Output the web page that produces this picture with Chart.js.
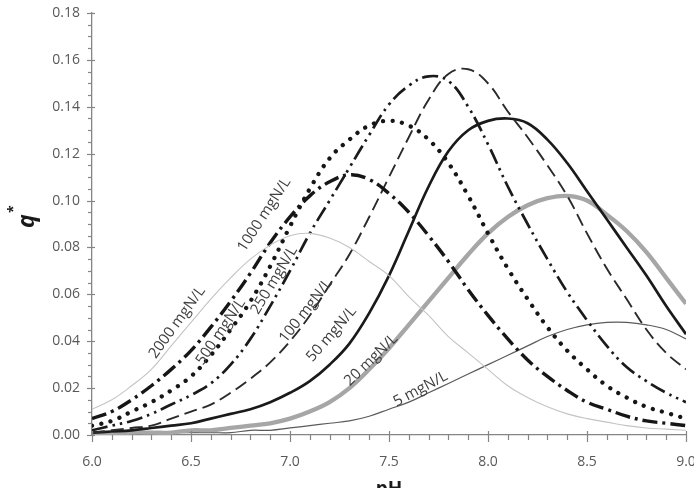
<!DOCTYPE html>
<html>
<head>
<meta charset="utf-8">
<script src="https://cdn.jsdelivr.net/npm/chart.js@4.4.1/dist/chart.umd.min.js"></script>
<style>
    html, body { margin: 0; padding: 0; background: #fff; }
</style>
</head>
<body>
<canvas id="chart" width="694" height="488"></canvas>
<script>
// pH grid the curves were read at
var ph = [6.0, 6.1, 6.2, 6.3, 6.4, 6.5, 6.6, 6.7, 6.8, 6.9,
          7.0, 7.1, 7.2, 7.3, 7.4, 7.5, 7.6, 7.7, 7.8, 7.9,
          8.0, 8.1, 8.2, 8.3, 8.4, 8.5, 8.6, 8.7, 8.8, 8.9, 9.0];

// q* for each ammonia concentration
var q2000 = [0.011, 0.015, 0.021, 0.028, 0.038, 0.048, 0.058, 0.067, 0.075, 0.081,
             0.085, 0.086, 0.084, 0.080, 0.074, 0.068, 0.059, 0.051, 0.042, 0.035,
             0.028, 0.021, 0.016, 0.012, 0.009, 0.007, 0.0055, 0.004, 0.003, 0.0025, 0.002];
var q1000 = [0.007, 0.010, 0.015, 0.021, 0.028, 0.036, 0.046, 0.057, 0.069, 0.082,
             0.093, 0.102, 0.108, 0.111, 0.109, 0.103, 0.095, 0.085, 0.074, 0.062,
             0.051, 0.041, 0.032, 0.025, 0.019, 0.014, 0.011, 0.008, 0.006, 0.005, 0.004];
var q500  = [0.004, 0.006, 0.010, 0.014, 0.019, 0.025, 0.034, 0.045, 0.057, 0.072,
             0.089, 0.105, 0.118, 0.126, 0.132, 0.134, 0.132, 0.126, 0.116, 0.102,
             0.086, 0.071, 0.058, 0.046, 0.036, 0.028, 0.021, 0.016, 0.012, 0.0095, 0.007];
var q250  = [0.002, 0.004, 0.006, 0.009, 0.013, 0.017, 0.022, 0.030, 0.041, 0.055,
             0.070, 0.086, 0.100, 0.114, 0.128, 0.141, 0.149, 0.153, 0.151, 0.140,
             0.124, 0.106, 0.090, 0.075, 0.061, 0.049, 0.038, 0.029, 0.023, 0.018, 0.014];
var q100  = [0.001, 0.002, 0.003, 0.004, 0.007, 0.010, 0.013, 0.018, 0.024, 0.031,
             0.040, 0.051, 0.064, 0.077, 0.093, 0.110, 0.127, 0.143, 0.154, 0.156,
             0.150, 0.138, 0.127, 0.115, 0.102, 0.086, 0.071, 0.058, 0.045, 0.035, 0.028];
var q50   = [0.001, 0.0015, 0.002, 0.003, 0.004, 0.005, 0.007, 0.009, 0.011, 0.014,
             0.018, 0.023, 0.030, 0.039, 0.052, 0.068, 0.087, 0.106, 0.121, 0.130,
             0.134, 0.135, 0.133, 0.126, 0.116, 0.104, 0.092, 0.080, 0.068, 0.055, 0.043];
var q20   = [0.000, 0.000, 0.001, 0.001, 0.001, 0.002, 0.002, 0.003, 0.004, 0.005,
             0.007, 0.010, 0.014, 0.020, 0.028, 0.037, 0.047, 0.057, 0.067, 0.077,
             0.086, 0.093, 0.098, 0.101, 0.102, 0.100, 0.094, 0.087, 0.078, 0.067, 0.056];
var q5    = [0.000, 0.000, 0.000, 0.000, 0.001, 0.001, 0.001, 0.001, 0.002, 0.002,
             0.003, 0.004, 0.005, 0.006, 0.008, 0.011, 0.014, 0.018, 0.022, 0.026,
             0.030, 0.034, 0.038, 0.042, 0.045, 0.047, 0.048, 0.048, 0.047, 0.045, 0.041];

var seriesNames = ['2000 mgN/L', '1000 mgN/L', '500 mgN/L', '250 mgN/L',
                   '100 mgN/L', '50 mgN/L', '20 mgN/L', '5 mgN/L'];
var seriesValues = [q2000, q1000, q500, q250, q100, q50, q20, q5];

var xTickValues = [6.0, 6.5, 7.0, 7.5, 8.0, 8.5, 9.0];
var yTickValues = [0.00, 0.02, 0.04, 0.06, 0.08, 0.10, 0.12, 0.14, 0.16, 0.18];

// line look per series, same order as seriesNames
var lineStyles = [
    { color: '#c4c4c4', width: 1.1, dash: [] },
    { color: '#161616', width: 3.4, dash: [15, 5, 3, 5] },
    { color: '#161616', width: 4.3, dash: [0.01, 9.5], cap: 'round' },
    { color: '#1a1a1a', width: 2.7, dash: [16, 5, 2.5, 5, 2.5, 5] },
    { color: '#2a2a2a', width: 1.9, dash: [13, 6] },
    { color: '#1a1a1a', width: 2.7, dash: [] },
    { color: '#a6a6a6', width: 4.3, dash: [] },
    { color: '#5a5a5a', width: 1.2, dash: [] }
];

// where the concentration labels sit (data units) and their tilt
var curveLabels = [
    { x: 6.43, y: 0.048, angle: -54 },
    { x: 6.87, y: 0.094, angle: -57 },
    { x: 6.65, y: 0.044, angle: -56 },
    { x: 6.92, y: 0.066, angle: -59 },
    { x: 7.08, y: 0.053, angle: -52 },
    { x: 7.21, y: 0.043, angle: -49 },
    { x: 7.41, y: 0.032, angle: -44 },
    { x: 7.66, y: 0.0196, angle: -28 }
];

var datasets = seriesValues.map(function(vals, i) {
    var st = lineStyles[i];
    return {
        label: seriesNames[i],
        data: ph.map(function(x, k) { return { x: x, y: vals[k] }; }),
        borderColor: st.color,
        borderWidth: st.width,
        borderDash: st.dash,
        borderCapStyle: st.cap || 'butt',
        fill: false,
        pointRadius: 0,
        tension: 0.4
    };
});

var decorations = {
    id: 'decorations',
    afterDraw: function(chart) {
        var ctx = chart.ctx;
        var xs = chart.scales.x;
        var ys = chart.scales.y;
        ctx.save();

        // axis tick marks (major cross the line, minor sit outside)
        ctx.strokeStyle = '#858585';
        ctx.lineWidth = 1.2;
        for (var v = 60; v <= 90; v++) {
            var px = Math.round(xs.getPixelForValue(v / 10)) + 0.5;
            var major = v % 5 === 0;
            ctx.beginPath();
            ctx.moveTo(px, ys.bottom - (major ? 4 : 0));
            ctx.lineTo(px, ys.bottom + (major ? 7 : 5));
            ctx.stroke();
        }
        for (var k = 0; k <= 36; k++) {
            var py = Math.round(ys.getPixelForValue(k * 0.005)) + 0.5;
            var maj = k % 4 === 0;
            ctx.beginPath();
            ctx.moveTo(xs.left - (maj ? 5 : 4), py);
            ctx.lineTo(xs.left + (maj ? 3 : 0), py);
            ctx.stroke();
        }

        // curve labels
        ctx.fillStyle = '#404040';
        ctx.font = '15px "Open Sans"';
        ctx.textAlign = 'center';
        ctx.textBaseline = 'middle';
        curveLabels.forEach(function(lb, i) {
            ctx.save();
            ctx.translate(xs.getPixelForValue(lb.x), ys.getPixelForValue(lb.y));
            ctx.rotate(lb.angle * Math.PI / 180);
            ctx.fillText(seriesNames[i], 0, 0);
            ctx.restore();
        });

        // y title q*
        ctx.fillStyle = '#1a1a1a';
        ctx.save();
        ctx.translate(34, 228);
        ctx.rotate(-Math.PI / 2);
        ctx.textAlign = 'left';
        ctx.textBaseline = 'alphabetic';
        ctx.font = 'italic bold 23px "Open Sans"';
        ctx.fillText('q', 0, 0);
        ctx.font = 'bold 14px "Open Sans"';
        ctx.fillText('*', 15, -16);
        ctx.restore();

        // x title pH
        ctx.textAlign = 'center';
        ctx.textBaseline = 'alphabetic';
        ctx.font = 'bold 19px "Open Sans"';
        ctx.fillText('pH', xs.getPixelForValue(7.5), 495);

        ctx.restore();
    }
};

new Chart(document.getElementById('chart').getContext('2d'), {
    type: 'line',
    data: { datasets: datasets },
    options: {
        responsive: false,
        animation: false,
        layout: { padding: { top: 13, right: 8, left: 0, bottom: 0 } },
        plugins: {
            legend: { display: false },
            tooltip: { enabled: false }
        },
        scales: {
            x: {
                type: 'linear',
                min: 6,
                max: 9,
                afterBuildTicks: function(scale) {
                    scale.ticks = xTickValues.map(function(v) { return { value: v }; });
                },
                ticks: {
                    callback: function(v) { return v.toFixed(1); },
                    color: '#595959',
                    font: { family: 'Open Sans', size: 14 },
                    padding: 11,
                    maxRotation: 0,
                    autoSkip: false
                },
                grid: { drawOnChartArea: false, tickLength: 8, tickColor: 'rgba(0,0,0,0)' },
                border: { color: '#858585', width: 1.3 },
                afterFit: function(scale) {
                    scale.height = 53;
                    scale.paddingLeft = 0;
                    scale.paddingRight = 0;
                }
            },
            y: {
                min: 0,
                max: 0.18,
                afterBuildTicks: function(scale) {
                    scale.ticks = yTickValues.map(function(v) { return { value: v }; });
                },
                ticks: {
                    callback: function(v) { return v.toFixed(2); },
                    color: '#595959',
                    font: { family: 'Open Sans', size: 14 },
                    padding: 6,
                    autoSkip: false
                },
                grid: { drawOnChartArea: false, tickLength: 6, tickColor: 'rgba(0,0,0,0)' },
                border: { color: '#858585', width: 1.3 },
                afterFit: function(scale) {
                    scale.width = 92;
                    scale.paddingTop = 0;
                    scale.paddingBottom = 0;
                }
            }
        }
    },
    plugins: [decorations]
});
</script>
</body>
</html>
